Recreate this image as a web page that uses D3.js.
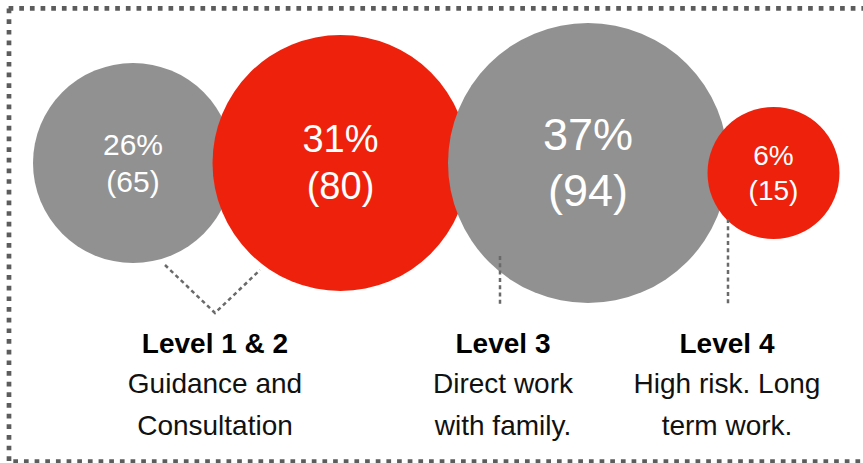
<!DOCTYPE html>
<html><head><meta charset="utf-8">
<script src="https://cdn.jsdelivr.net/npm/d3@7"></script>
<style>html,body{margin:0;padding:0;background:#fff;overflow:hidden}</style>
</head><body>
<svg id="chart" width="863" height="463"></svg>
<script>
// ---- data ----
const percents = [26, 31, 37, 6];
const counts = [65, 80, 94, 15];
const levelTitles = ["Level 1 & 2", "Level 3", "Level 4"];
const levelLine1 = ["Guidance and", "Direct work", "High risk. Long"];
const levelLine2 = ["Consultation", "with family.", "term work."];

// ---- styles / layout ----
const GREY = "#919191", RED = "#ee220c", DOT = "#5c5c5c", DASH = "#6a6a6a";
const FONT = "'Helvetica Neue', Helvetica, 'Liberation Sans', Arial, sans-serif";
const svg = d3.select("#chart");

const rScale = d3.scaleLinear().domain([15, 65, 80, 94]).range([66, 100, 128, 140]);
const fScale = d3.scaleLinear().domain([15, 65, 80, 94]).range([28, 30, 38, 45]);

// circle layout: chained, overlapping neighbours
const overlap = 20.5;
const nodes = [];
let x = 133;
counts.forEach((c, i) => {
  const r = rScale(c);
  if (i > 0) x += nodes[i - 1].r + r - overlap;
  nodes.push({ i, pct: percents[i], count: c, r, cx: x, cy: i === 3 ? 173 : 163, fs: fScale(c) });
});

// dotted frame
const frame = svg.append("g").attr("fill", "none").attr("stroke", DOT)
  .attr("stroke-width", 4.7).attr("stroke-dasharray", "4.7 5.96");
frame.append("line").attr("x1", 8.6).attr("x2", 875).attr("y1", 8.4).attr("y2", 8.4);
frame.append("line").attr("x1", 9).attr("x2", 9).attr("y1", 8.6).attr("y2", 475);
frame.append("line").attr("x1", 13.3).attr("x2", 875).attr("y1", 461.7).attr("y2", 461.7);

// circles
const g = svg.append("g");
const node = g.selectAll("g.node").data(nodes).join("g").attr("class", "node");
node.append("circle")
  .attr("cx", d => d.cx).attr("cy", d => d.cy).attr("r", d => d.r)
  .attr("fill", d => d.i % 2 === 0 ? GREY : RED);
node.append("text")
  .attr("x", d => d.cx).attr("y", d => d.cy - 0.28 * d.fs)
  .attr("text-anchor", "middle").attr("fill", "#fff")
  .style("font-family", FONT).style("font-weight", 300)
  .style("font-size", d => d.fs + "px")
  .text(d => d.pct + "%");
node.append("text")
  .attr("x", d => d.cx).attr("y", d => d.cy + 0.95 * d.fs)
  .attr("text-anchor", "middle").attr("fill", "#fff")
  .style("font-family", FONT).style("font-weight", 300)
  .style("font-size", d => d.fs + "px")
  .text(d => "(" + d.count + ")");

// labels
const anchors = [215, 503, 727];
const connectors = [
  ax => [[ax - 50, 265], [ax, 313], [ax + 45, 270]],
  ax => [[ax - 3, 256], [ax - 3, 304]],
  ax => [[ax + 1, 219], [ax + 1, 304]]
];
const line = d3.line();
const lab = svg.append("g");
levelTitles.forEach((t, i) => {
  const ax = anchors[i];
  lab.append("path").attr("d", line(connectors[i](ax)))
    .attr("fill", "none").attr("stroke", DASH).attr("stroke-width", 2.5)
    .attr("stroke-dasharray", "4 3.3");
  lab.append("text").attr("x", ax).attr("y", 352.7).attr("text-anchor", "middle")
    .style("font-family", FONT).style("font-weight", "bold").style("font-size", "28px")
    .attr("fill", "#000").text(t);
  lab.append("text").attr("x", ax).attr("y", 392.7).attr("text-anchor", "middle")
    .style("font-family", FONT).style("font-size", "28px").attr("fill", "#111").text(levelLine1[i]);
  lab.append("text").attr("x", ax).attr("y", 434.5).attr("text-anchor", "middle")
    .style("font-family", FONT).style("font-size", "28px").attr("fill", "#111").text(levelLine2[i]);
});
</script>
</body></html>
